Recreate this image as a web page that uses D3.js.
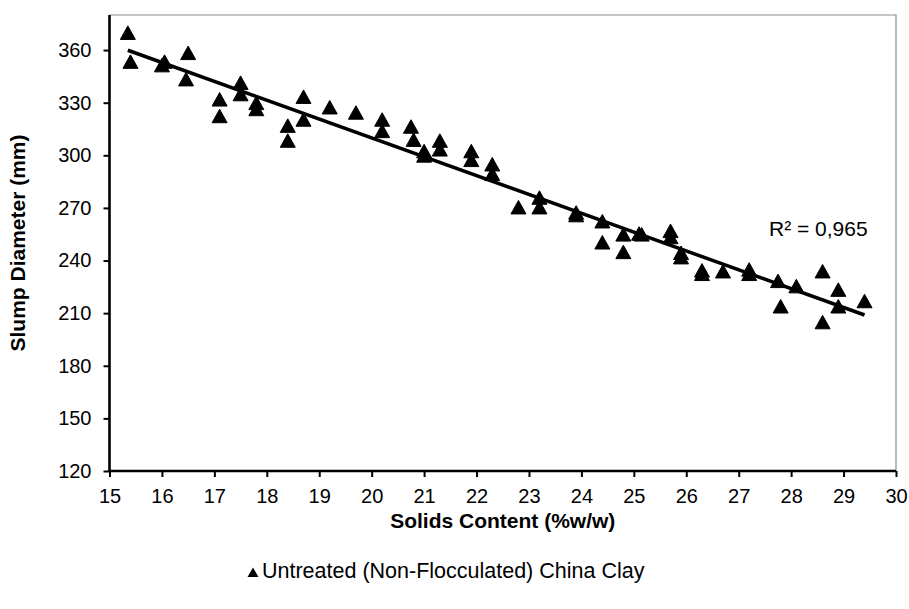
<!DOCTYPE html>
<html>
<head>
<meta charset="utf-8">
<script src="https://cdn.jsdelivr.net/npm/d3@7"></script>
<style>
  body { margin: 0; background: #fff; }
  text { font-family: "Liberation Sans", Arial, sans-serif; fill: #000; }
</style>
</head>
<body>
<div id="chart"></div>
<script>
// values
var solids = [15.35, 15.4, 16.0, 16.05, 16.5, 16.46, 17.1, 17.1, 17.5, 17.5,
  17.8, 17.8, 18.4, 18.4, 18.7, 18.7, 19.2, 19.7, 20.2, 20.2,
  20.75, 20.8, 21.0, 21.0, 21.3, 21.3, 21.9, 21.9, 22.3, 22.3,
  22.8, 23.2, 23.2, 23.9, 23.9, 24.4, 24.4, 24.8, 24.8, 25.1,
  25.15, 25.7, 25.7, 25.9, 25.9, 26.3, 26.3, 26.7, 27.2, 27.2,
  27.75, 27.8, 28.1, 28.6, 28.6, 28.9, 28.9, 29.4];
var slump = [369.5, 353, 351, 353, 358, 343, 331.5, 322, 341, 334.5,
  329.5, 326, 316.5, 308, 333, 320, 327, 324, 320, 313.5,
  316, 308.5, 302, 299.5, 308, 303, 302, 297, 294.5, 289,
  270, 275.5, 270, 267, 265.5, 262, 250, 254.5, 244.5, 255,
  254.5, 256.5, 253, 244, 241.5, 234, 232, 233.5, 234.5, 232,
  228, 213.5, 225, 233.5, 204.5, 223, 213.5, 216.5];
var xTicks = d3.range(15, 31, 1);
var yTicks = d3.range(120, 361, 30);
var seriesName = "Untreated (Non-Flocculated) China Clay";
var r2Label = "R\u00B2 = 0,965";

var width = 909, height = 609;

var svg = d3.select('#chart')
  .append('svg')
    .attr('width', width)
    .attr('height', height);

var x = d3.scaleLinear().domain([15, 30]).range([109.5, 896]);
var y = d3.scaleLinear().domain([120, 380]).range([471, 15]);

// top / right frame
svg.append('path')
  .attr('d', 'M' + x(15) + ',' + y(380) + 'H' + x(30) + 'V' + y(120))
  .attr('fill', 'none')
  .attr('stroke', '#8c8c8c')
  .attr('stroke-width', 1.2);

var xAxis = svg.append('g')
  .attr('transform', 'translate(0,' + y(120) + ')')
  .call(d3.axisBottom(x).tickValues(xTicks).tickSize(6).tickPadding(12).tickFormat(d3.format('d')));
var yAxis = svg.append('g')
  .attr('transform', 'translate(' + x(15) + ',0)')
  .call(d3.axisLeft(y).tickValues(yTicks).tickSize(6).tickPadding(12).tickFormat(d3.format('d')));

[xAxis, yAxis].forEach(function (a) {
  a.select('.domain').attr('stroke', '#000').attr('stroke-width', 2.6);
  a.selectAll('.tick line').attr('stroke', '#000').attr('stroke-width', 2);
  a.selectAll('.tick text')
    .style('font-family', '"Liberation Sans", Arial, sans-serif')
    .style('font-size', '20px')
    .attr('fill', '#000');
});
xAxis.select('.domain').attr('d', 'M' + x(15) + ',0H' + x(30));
yAxis.select('.domain').attr('d', 'M0,' + y(120) + 'V' + y(380));

// linear trendline (least squares)
var mx = d3.mean(solids),
    my = d3.mean(slump);
var sxy = d3.sum(solids, function (v, i) { return (v - mx) * (slump[i] - my); });
var sxx = d3.sum(solids, function (v) { return (v - mx) * (v - mx); });
var slope = sxy / sxx,
    icpt = my - slope * mx;
var ext = d3.extent(solids);

svg.append('line')
  .attr('x1', x(ext[0])).attr('y1', y(icpt + slope * ext[0]))
  .attr('x2', x(ext[1])).attr('y2', y(icpt + slope * ext[1]))
  .attr('stroke', '#000')
  .attr('stroke-width', 3.5);

var tri = 'M0,-7.5L7.5,6L-7.5,6Z';

svg.append('g').selectAll('path')
  .data(solids)
  .enter()
  .append('path')
    .attr('d', tri)
    .attr('fill', '#000')
    .attr('stroke', '#000')
    .attr('stroke-width', 1)
    .attr('stroke-linejoin', 'round')
    .attr('transform', function (d, i) {
      return 'translate(' + x(d) + ',' + y(slump[i]) + ')';
    });

svg.append('text')
  .attr('x', 769).attr('y', 236)
  .style('font-size', '21px')
  .text(r2Label);

// axis titles
svg.append('text')
  .attr('x', (x(15) + x(30)) / 2).attr('y', 528)
  .attr('text-anchor', 'middle')
  .style('font-size', '21px').style('font-weight', 'bold')
  .text('Solids Content (%w/w)');

svg.append('text')
  .attr('transform', 'translate(25,' + (y(120) + y(380)) / 2 + ') rotate(-90)')
  .attr('text-anchor', 'middle')
  .style('font-size', '21px').style('font-weight', 'bold')
  .text('Slump Diameter (mm)');

// legend
var leg = svg.append('g').attr('transform', 'translate(253,578)');
leg.append('path')
  .attr('d', 'M0,-6.5L5.5,3L-5.5,3Z')
  .attr('transform', 'translate(0,-4)')
  .attr('fill', '#000');
leg.append('text')
  .attr('x', 9).attr('y', 0)
  .style('font-size', '21.5px')
  .text(seriesName);
</script>
</body>
</html>
